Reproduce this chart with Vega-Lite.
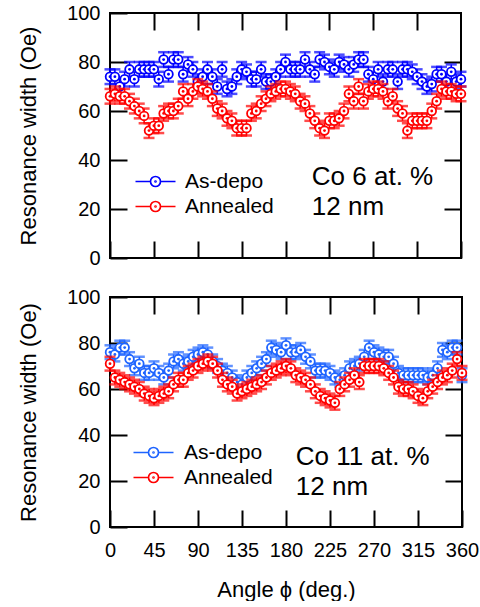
{
  "$schema": "https://vega.github.io/schema/vega-lite/v6.json",
  "background": "white",
  "padding": {"left": 16, "top": 2, "right": 5, "bottom": 0},
  "bounds": "flush",
  "spacing": 39,
  "resolve": {"scale": {"stroke": "independent"}, "legend": {"stroke": "independent"}},
  "datasets": {
    "top": [
      {"g":"As-depo","a":0,"v":74,"e":3},{"g":"As-depo","a":5,"v":74,"e":3},{"g":"As-depo","a":10,"v":70,"e":3},{"g":"As-depo","a":15,"v":73,"e":3},{"g":"As-depo","a":20,"v":77,"e":3},{"g":"As-depo","a":25,"v":73,"e":3},{"g":"As-depo","a":30,"v":77,"e":3},{"g":"As-depo","a":35,"v":77,"e":3},{"g":"As-depo","a":40,"v":77,"e":3},{"g":"As-depo","a":45,"v":77,"e":3},{"g":"As-depo","a":50,"v":73,"e":3},
      {"g":"As-depo","a":55,"v":81,"e":3},{"g":"As-depo","a":60,"v":75,"e":3},{"g":"As-depo","a":65,"v":81,"e":3},{"g":"As-depo","a":70,"v":81,"e":3},{"g":"As-depo","a":75,"v":75,"e":3},{"g":"As-depo","a":80,"v":79,"e":3},{"g":"As-depo","a":85,"v":77,"e":3},{"g":"As-depo","a":90,"v":72,"e":3},{"g":"As-depo","a":95,"v":74,"e":3},{"g":"As-depo","a":100,"v":77,"e":3},
      {"g":"As-depo","a":105,"v":74,"e":3},{"g":"As-depo","a":110,"v":70,"e":3},{"g":"As-depo","a":115,"v":77,"e":3},{"g":"As-depo","a":120,"v":69,"e":3},{"g":"As-depo","a":125,"v":70,"e":3},{"g":"As-depo","a":130,"v":74,"e":3},{"g":"As-depo","a":135,"v":77,"e":3},{"g":"As-depo","a":140,"v":76,"e":3},{"g":"As-depo","a":145,"v":73,"e":3},{"g":"As-depo","a":150,"v":73,"e":3},
      {"g":"As-depo","a":155,"v":77,"e":3},{"g":"As-depo","a":160,"v":72,"e":3},{"g":"As-depo","a":165,"v":72,"e":3},{"g":"As-depo","a":170,"v":74,"e":3},{"g":"As-depo","a":175,"v":77,"e":3},{"g":"As-depo","a":180,"v":80,"e":3},{"g":"As-depo","a":185,"v":77,"e":3},{"g":"As-depo","a":190,"v":77,"e":3},{"g":"As-depo","a":195,"v":77,"e":3},{"g":"As-depo","a":200,"v":81,"e":3},
      {"g":"As-depo","a":205,"v":77,"e":3},{"g":"As-depo","a":210,"v":75,"e":3},{"g":"As-depo","a":215,"v":81,"e":3},{"g":"As-depo","a":220,"v":80,"e":3},{"g":"As-depo","a":225,"v":78,"e":3},{"g":"As-depo","a":230,"v":77,"e":3},{"g":"As-depo","a":235,"v":80,"e":3},{"g":"As-depo","a":240,"v":79,"e":3},{"g":"As-depo","a":245,"v":77,"e":3},{"g":"As-depo","a":250,"v":79,"e":3},
      {"g":"As-depo","a":255,"v":81,"e":3},{"g":"As-depo","a":260,"v":81,"e":3},{"g":"As-depo","a":265,"v":75,"e":3},{"g":"As-depo","a":270,"v":73,"e":3},{"g":"As-depo","a":275,"v":77,"e":3},{"g":"As-depo","a":280,"v":72,"e":3},{"g":"As-depo","a":285,"v":77,"e":3},{"g":"As-depo","a":290,"v":77,"e":3},{"g":"As-depo","a":295,"v":72,"e":3},{"g":"As-depo","a":300,"v":77,"e":3},
      {"g":"As-depo","a":305,"v":77,"e":3},{"g":"As-depo","a":310,"v":76,"e":3},{"g":"As-depo","a":315,"v":74,"e":3},{"g":"As-depo","a":320,"v":72,"e":3},{"g":"As-depo","a":325,"v":70,"e":3},{"g":"As-depo","a":330,"v":71,"e":3},{"g":"As-depo","a":335,"v":75,"e":3},{"g":"As-depo","a":340,"v":75,"e":3},{"g":"As-depo","a":345,"v":72,"e":3},{"g":"As-depo","a":350,"v":76,"e":3},
      {"g":"As-depo","a":355,"v":72,"e":3},{"g":"As-depo","a":360,"v":73,"e":3},
      {"g":"Annealed","a":0,"v":66,"e":3},{"g":"Annealed","a":5,"v":67,"e":3},{"g":"Annealed","a":10,"v":66,"e":3},{"g":"Annealed","a":15,"v":66,"e":3},{"g":"Annealed","a":20,"v":64,"e":3},{"g":"Annealed","a":25,"v":62,"e":3},{"g":"Annealed","a":30,"v":60,"e":3},{"g":"Annealed","a":35,"v":58,"e":3},{"g":"Annealed","a":40,"v":52,"e":3},{"g":"Annealed","a":45,"v":54,"e":3},{"g":"Annealed","a":50,"v":54,"e":3},
      {"g":"Annealed","a":55,"v":59,"e":3},{"g":"Annealed","a":60,"v":60,"e":3},{"g":"Annealed","a":65,"v":60,"e":3},{"g":"Annealed","a":70,"v":62,"e":3},{"g":"Annealed","a":75,"v":68,"e":3},{"g":"Annealed","a":80,"v":65,"e":3},{"g":"Annealed","a":85,"v":68,"e":3},{"g":"Annealed","a":90,"v":70,"e":3},{"g":"Annealed","a":95,"v":69,"e":3},{"g":"Annealed","a":100,"v":68,"e":3},
      {"g":"Annealed","a":105,"v":65,"e":3},{"g":"Annealed","a":110,"v":61,"e":3},{"g":"Annealed","a":115,"v":60,"e":3},{"g":"Annealed","a":120,"v":57,"e":3},{"g":"Annealed","a":125,"v":56,"e":3},{"g":"Annealed","a":130,"v":53,"e":3},{"g":"Annealed","a":135,"v":53,"e":3},{"g":"Annealed","a":140,"v":53,"e":3},{"g":"Annealed","a":145,"v":59,"e":3},{"g":"Annealed","a":150,"v":60,"e":3},
      {"g":"Annealed","a":155,"v":63,"e":3},{"g":"Annealed","a":160,"v":65,"e":3},{"g":"Annealed","a":165,"v":67,"e":3},{"g":"Annealed","a":170,"v":68,"e":3},{"g":"Annealed","a":175,"v":69,"e":3},{"g":"Annealed","a":180,"v":69,"e":3},{"g":"Annealed","a":185,"v":68,"e":3},{"g":"Annealed","a":190,"v":67,"e":3},{"g":"Annealed","a":195,"v":64,"e":3},{"g":"Annealed","a":200,"v":63,"e":3},
      {"g":"Annealed","a":205,"v":59,"e":3},{"g":"Annealed","a":210,"v":56,"e":3},{"g":"Annealed","a":215,"v":53,"e":3},{"g":"Annealed","a":220,"v":52,"e":3},{"g":"Annealed","a":225,"v":56,"e":3},{"g":"Annealed","a":230,"v":56,"e":3},{"g":"Annealed","a":235,"v":57,"e":3},{"g":"Annealed","a":240,"v":60,"e":3},{"g":"Annealed","a":245,"v":67,"e":3},{"g":"Annealed","a":250,"v":64,"e":3},
      {"g":"Annealed","a":255,"v":70,"e":3},{"g":"Annealed","a":260,"v":64,"e":3},{"g":"Annealed","a":265,"v":68,"e":3},{"g":"Annealed","a":270,"v":69,"e":3},{"g":"Annealed","a":275,"v":69,"e":3},{"g":"Annealed","a":280,"v":68,"e":3},{"g":"Annealed","a":285,"v":64,"e":3},{"g":"Annealed","a":290,"v":66,"e":3},{"g":"Annealed","a":295,"v":61,"e":3},{"g":"Annealed","a":300,"v":59,"e":3},
      {"g":"Annealed","a":305,"v":52,"e":3},{"g":"Annealed","a":310,"v":56,"e":3},{"g":"Annealed","a":315,"v":56,"e":3},{"g":"Annealed","a":320,"v":56,"e":3},{"g":"Annealed","a":325,"v":56,"e":3},{"g":"Annealed","a":330,"v":60,"e":3},{"g":"Annealed","a":335,"v":64,"e":3},{"g":"Annealed","a":340,"v":69,"e":3},{"g":"Annealed","a":345,"v":68,"e":3},{"g":"Annealed","a":350,"v":68,"e":3},
      {"g":"Annealed","a":355,"v":67,"e":3},{"g":"Annealed","a":360,"v":67,"e":3}
    ],
    "bot": [
      {"g":"As-depo","a":0,"v":76,"e":3},{"g":"As-depo","a":5,"v":75,"e":3},{"g":"As-depo","a":10,"v":78,"e":3},{"g":"As-depo","a":15,"v":78,"e":3},{"g":"As-depo","a":20,"v":73,"e":3},{"g":"As-depo","a":25,"v":69,"e":3},{"g":"As-depo","a":30,"v":71,"e":3},{"g":"As-depo","a":35,"v":67,"e":3},{"g":"As-depo","a":40,"v":67,"e":3},{"g":"As-depo","a":45,"v":69,"e":3},{"g":"As-depo","a":50,"v":67,"e":3},
      {"g":"As-depo","a":55,"v":65,"e":3},{"g":"As-depo","a":60,"v":68,"e":3},{"g":"As-depo","a":65,"v":72,"e":3},{"g":"As-depo","a":70,"v":73,"e":3},{"g":"As-depo","a":75,"v":71,"e":3},{"g":"As-depo","a":80,"v":72,"e":3},{"g":"As-depo","a":85,"v":74,"e":3},{"g":"As-depo","a":90,"v":75,"e":3},{"g":"As-depo","a":95,"v":76,"e":3},{"g":"As-depo","a":100,"v":75,"e":3},
      {"g":"As-depo","a":105,"v":72,"e":3},{"g":"As-depo","a":110,"v":70,"e":3},{"g":"As-depo","a":115,"v":68,"e":3},{"g":"As-depo","a":120,"v":67,"e":3},{"g":"As-depo","a":125,"v":65,"e":3},{"g":"As-depo","a":130,"v":63,"e":3},{"g":"As-depo","a":135,"v":62,"e":3},{"g":"As-depo","a":140,"v":65,"e":3},{"g":"As-depo","a":145,"v":67,"e":3},{"g":"As-depo","a":150,"v":69,"e":3},
      {"g":"As-depo","a":155,"v":71,"e":3},{"g":"As-depo","a":160,"v":73,"e":3},{"g":"As-depo","a":165,"v":78,"e":3},{"g":"As-depo","a":170,"v":77,"e":3},{"g":"As-depo","a":175,"v":76,"e":3},{"g":"As-depo","a":180,"v":79,"e":3},{"g":"As-depo","a":185,"v":76,"e":3},{"g":"As-depo","a":190,"v":76,"e":3},{"g":"As-depo","a":195,"v":77,"e":3},{"g":"As-depo","a":200,"v":74,"e":3},
      {"g":"As-depo","a":205,"v":72,"e":3},{"g":"As-depo","a":210,"v":68,"e":3},{"g":"As-depo","a":215,"v":68,"e":3},{"g":"As-depo","a":220,"v":68,"e":3},{"g":"As-depo","a":225,"v":67,"e":3},{"g":"As-depo","a":230,"v":65,"e":3},{"g":"As-depo","a":235,"v":64,"e":3},{"g":"As-depo","a":240,"v":66,"e":3},{"g":"As-depo","a":245,"v":69,"e":3},{"g":"As-depo","a":250,"v":70,"e":3},
      {"g":"As-depo","a":255,"v":71,"e":3},{"g":"As-depo","a":260,"v":74,"e":3},{"g":"As-depo","a":265,"v":78,"e":3},{"g":"As-depo","a":270,"v":76,"e":3},{"g":"As-depo","a":275,"v":75,"e":3},{"g":"As-depo","a":280,"v":74,"e":3},{"g":"As-depo","a":285,"v":74,"e":3},{"g":"As-depo","a":290,"v":71,"e":3},{"g":"As-depo","a":295,"v":67,"e":3},{"g":"As-depo","a":300,"v":66,"e":3},
      {"g":"As-depo","a":305,"v":66,"e":3},{"g":"As-depo","a":310,"v":66,"e":3},{"g":"As-depo","a":315,"v":66,"e":3},{"g":"As-depo","a":320,"v":66,"e":3},{"g":"As-depo","a":325,"v":65,"e":3},{"g":"As-depo","a":330,"v":66,"e":3},{"g":"As-depo","a":335,"v":69,"e":3},{"g":"As-depo","a":340,"v":77,"e":3},{"g":"As-depo","a":345,"v":76,"e":3},{"g":"As-depo","a":350,"v":78,"e":3},
      {"g":"As-depo","a":355,"v":78,"e":3},{"g":"As-depo","a":360,"v":66,"e":3},
      {"g":"Annealed","a":0,"v":71,"e":3},{"g":"Annealed","a":5,"v":65,"e":3},{"g":"Annealed","a":10,"v":64,"e":3},{"g":"Annealed","a":15,"v":63,"e":3},{"g":"Annealed","a":20,"v":62,"e":3},{"g":"Annealed","a":25,"v":61,"e":3},{"g":"Annealed","a":30,"v":60,"e":3},{"g":"Annealed","a":35,"v":58,"e":3},{"g":"Annealed","a":40,"v":57,"e":3},{"g":"Annealed","a":45,"v":56,"e":3},{"g":"Annealed","a":50,"v":57,"e":3},
      {"g":"Annealed","a":55,"v":58,"e":3},{"g":"Annealed","a":60,"v":59,"e":3},{"g":"Annealed","a":65,"v":62,"e":3},{"g":"Annealed","a":70,"v":64,"e":3},{"g":"Annealed","a":75,"v":64,"e":3},{"g":"Annealed","a":80,"v":67,"e":3},{"g":"Annealed","a":85,"v":68,"e":3},{"g":"Annealed","a":90,"v":70,"e":3},{"g":"Annealed","a":95,"v":71,"e":3},{"g":"Annealed","a":100,"v":72,"e":3},
      {"g":"Annealed","a":105,"v":71,"e":3},{"g":"Annealed","a":110,"v":68,"e":3},{"g":"Annealed","a":115,"v":64,"e":3},{"g":"Annealed","a":120,"v":62,"e":3},{"g":"Annealed","a":125,"v":61,"e":3},{"g":"Annealed","a":130,"v":58,"e":3},{"g":"Annealed","a":135,"v":59,"e":3},{"g":"Annealed","a":140,"v":60,"e":3},{"g":"Annealed","a":145,"v":61,"e":3},{"g":"Annealed","a":150,"v":62,"e":3},
      {"g":"Annealed","a":155,"v":63,"e":3},{"g":"Annealed","a":160,"v":65,"e":3},{"g":"Annealed","a":165,"v":67,"e":3},{"g":"Annealed","a":170,"v":68,"e":3},{"g":"Annealed","a":175,"v":69,"e":3},{"g":"Annealed","a":180,"v":70,"e":3},{"g":"Annealed","a":185,"v":69,"e":3},{"g":"Annealed","a":190,"v":66,"e":3},{"g":"Annealed","a":195,"v":65,"e":3},{"g":"Annealed","a":200,"v":64,"e":3},
      {"g":"Annealed","a":205,"v":62,"e":3},{"g":"Annealed","a":210,"v":59,"e":3},{"g":"Annealed","a":215,"v":57,"e":3},{"g":"Annealed","a":220,"v":56,"e":3},{"g":"Annealed","a":225,"v":55,"e":3},{"g":"Annealed","a":230,"v":54,"e":3},{"g":"Annealed","a":235,"v":60,"e":3},{"g":"Annealed","a":240,"v":62,"e":3},{"g":"Annealed","a":245,"v":64,"e":3},{"g":"Annealed","a":250,"v":66,"e":3},
      {"g":"Annealed","a":255,"v":63,"e":3},{"g":"Annealed","a":260,"v":70,"e":3},{"g":"Annealed","a":265,"v":70,"e":3},{"g":"Annealed","a":270,"v":70,"e":3},{"g":"Annealed","a":275,"v":70,"e":3},{"g":"Annealed","a":280,"v":69,"e":3},{"g":"Annealed","a":285,"v":67,"e":3},{"g":"Annealed","a":290,"v":65,"e":3},{"g":"Annealed","a":295,"v":61,"e":3},{"g":"Annealed","a":300,"v":60,"e":3},
      {"g":"Annealed","a":305,"v":60,"e":3},{"g":"Annealed","a":310,"v":59,"e":3},{"g":"Annealed","a":315,"v":57,"e":3},{"g":"Annealed","a":320,"v":56,"e":3},{"g":"Annealed","a":325,"v":59,"e":3},{"g":"Annealed","a":330,"v":61,"e":3},{"g":"Annealed","a":335,"v":63,"e":3},{"g":"Annealed","a":340,"v":65,"e":3},{"g":"Annealed","a":345,"v":66,"e":3},{"g":"Annealed","a":350,"v":68,"e":3},
      {"g":"Annealed","a":355,"v":73,"e":3},{"g":"Annealed","a":360,"v":67,"e":3}
    ]
  },
  "config": {
    "view": {"stroke": "black", "strokeWidth": 2},
    "font": "Liberation Sans",
    "axis": {"grid": false, "domain": false, "labelOverlap": false, "labelFlush": false, "labelFont": "Liberation Sans", "labelFontSize": 20, "labelColor": "black", "titleFont": "Liberation Sans", "titleFontSize": 22, "titleColor": "black", "titleFontWeight": "normal"},
    "axisX": {"labelPadding": 13, "titlePadding": 19},
    "axisY": {"labelPadding": 10, "titlePadding": 26},
    "legend": {"title": null, "symbolType": "M-4,0L-1,0M1,0L4,0M1,0A1,1,0,1,1,-1,0A1,1,0,1,1,1,0M0.1,0A0.1,0.1,0,1,1,-0.1,0A0.1,0.1,0,1,1,0.1,0", "symbolSize": 100, "symbolStrokeWidth": 1.7, "symbolFillColor": "white", "labelFont": "Liberation Sans", "labelFontSize": 21, "labelColor": "black", "labelOffset": 19, "rowPadding": 3, "padding": 0}
  },
  "vconcat": [
    {
      "width": 351, "height": 245,
      "data": {"name": "top"},
      "resolve": {"axis": {"x": "independent", "y": "independent"}},
      "layer": [
        {"mark": {"type": "point", "opacity": 0, "size": 1},
         "encoding": {"x": {"field": "a", "type": "quantitative", "scale": {"domain": [0, 360], "nice": false}, "axis": {"orient": "bottom", "values": [0,45,90,135,180,225,270,315,360], "labels": false, "title": null, "ticks": true, "tickSize": 17, "offset": -17, "tickColor": "black", "tickWidth": 2}},
                      "y": {"field": "v", "type": "quantitative", "scale": {"domain": [0, 100], "nice": false}, "axis": {"orient": "left", "values": [0,20,40,60,80,100], "title": "Resonance width (Oe)", "ticks": true, "tickSize": 17, "offset": -17, "tickColor": "black", "tickWidth": 2}}}},
        {"mark": {"type": "point", "opacity": 0, "size": 1},
         "encoding": {"x": {"field": "a", "type": "quantitative", "scale": {"domain": [0, 360], "nice": false}, "axis": {"orient": "top", "values": [45,90,135,180,225,270,315], "labels": false, "title": null, "ticks": true, "tickSize": 17, "offset": -17, "tickColor": "black", "tickWidth": 2}},
                      "y": {"field": "v", "type": "quantitative", "scale": {"domain": [0, 100], "nice": false}, "axis": {"orient": "right", "values": [20,40,60,80], "labels": false, "title": null, "ticks": true, "tickSize": 17, "offset": -17, "tickColor": "black", "tickWidth": 2}}}},
        {"transform": [{"filter": "datum.g === 'As-depo'"}],
         "mark": {"type": "errorbar", "color": "#0000ff", "thickness": 1.5, "ticks": {"size": 11, "thickness": 2.5}},
         "encoding": {"x": {"field": "a", "type": "quantitative", "scale": {"domain": [0, 360], "nice": false}, "axis": null},
                      "y": {"field": "v", "type": "quantitative", "scale": {"domain": [0, 100], "nice": false}, "axis": null},
                      "yError": {"field": "e"}}},
        {"transform": [{"filter": "datum.g === 'As-depo'"}],
         "mark": {"type": "point", "shape": "circle", "filled": true, "fill": "white", "size": 75, "strokeWidth": 1.8, "opacity": 1},
         "encoding": {"x": {"field": "a", "type": "quantitative", "scale": {"domain": [0, 360], "nice": false}, "axis": null},
                      "y": {"field": "v", "type": "quantitative", "scale": {"domain": [0, 100], "nice": false}, "axis": null},
                      "stroke": {"field": "g", "type": "nominal", "scale": {"domain": ["As-depo", "Annealed"], "range": ["#0000ff", "#ff0000"]}, "legend": {"orient": "none", "legendX": 35, "legendY": 158}}}},
        {"transform": [{"filter": "datum.g === 'As-depo'"}],
         "mark": {"type": "point", "shape": "circle", "filled": true, "size": 8, "color": "#0000ff", "opacity": 1},
         "encoding": {"x": {"field": "a", "type": "quantitative", "scale": {"domain": [0, 360], "nice": false}, "axis": null}, "y": {"field": "v", "type": "quantitative", "scale": {"domain": [0, 100], "nice": false}, "axis": null}}},
        {"transform": [{"filter": "datum.g === 'Annealed'"}],
         "mark": {"type": "errorbar", "color": "#ff0000", "thickness": 1.5, "ticks": {"size": 11, "thickness": 2.5}},
         "encoding": {"x": {"field": "a", "type": "quantitative", "scale": {"domain": [0, 360], "nice": false}, "axis": null},
                      "y": {"field": "v", "type": "quantitative", "scale": {"domain": [0, 100], "nice": false}, "axis": null},
                      "yError": {"field": "e"}}},
        {"transform": [{"filter": "datum.g === 'Annealed'"}],
         "mark": {"type": "point", "shape": "circle", "filled": true, "fill": "white", "size": 75, "strokeWidth": 1.8, "opacity": 1},
         "encoding": {"x": {"field": "a", "type": "quantitative", "scale": {"domain": [0, 360], "nice": false}, "axis": null},
                      "y": {"field": "v", "type": "quantitative", "scale": {"domain": [0, 100], "nice": false}, "axis": null},
                      "stroke": {"field": "g", "type": "nominal", "scale": {"domain": ["As-depo", "Annealed"], "range": ["#0000ff", "#ff0000"]}, "legend": {"orient": "none", "legendX": 35, "legendY": 158}}}},
        {"transform": [{"filter": "datum.g === 'Annealed'"}],
         "mark": {"type": "point", "shape": "circle", "filled": true, "size": 8, "color": "#ff0000", "opacity": 1},
         "encoding": {"x": {"field": "a", "type": "quantitative", "scale": {"domain": [0, 360], "nice": false}, "axis": null}, "y": {"field": "v", "type": "quantitative", "scale": {"domain": [0, 100], "nice": false}, "axis": null}}},
        {"data": {"values": [{}]},
         "mark": {"type": "text", "align": "left", "baseline": "alphabetic", "fontSize": 26, "font": "Liberation Sans", "lineHeight": 30, "color": "black"},
         "encoding": {"x": {"datum": 207, "type": "quantitative", "scale": {"domain": [0, 360], "nice": false}, "axis": null}, "y": {"datum": 29.8, "type": "quantitative", "scale": {"domain": [0, 100], "nice": false}, "axis": null}, "text": {"value": ["Co 6 at. %", "12 nm"]}}}
      ]
    },
    {
      "width": 352, "height": 230,
      "data": {"name": "bot"},
      "resolve": {"axis": {"x": "independent", "y": "independent"}},
      "layer": [
        {"mark": {"type": "point", "opacity": 0, "size": 1},
         "encoding": {"x": {"field": "a", "type": "quantitative", "scale": {"domain": [0, 360], "nice": false}, "axis": {"orient": "bottom", "values": [0,45,90,135,180,225,270,315,360], "title": "Angle ϕ (deg.)", "ticks": true, "tickSize": 17, "offset": -17, "tickColor": "black", "tickWidth": 2}},
                      "y": {"field": "v", "type": "quantitative", "scale": {"domain": [0, 100], "nice": false}, "axis": {"orient": "left", "values": [0,20,40,60,80,100], "title": "Resonance width (Oe)", "ticks": true, "tickSize": 17, "offset": -17, "tickColor": "black", "tickWidth": 2}}}},
        {"mark": {"type": "point", "opacity": 0, "size": 1},
         "encoding": {"x": {"field": "a", "type": "quantitative", "scale": {"domain": [0, 360], "nice": false}, "axis": {"orient": "top", "values": [45,90,135,180,225,270,315], "labels": false, "title": null, "ticks": true, "tickSize": 17, "offset": -17, "tickColor": "black", "tickWidth": 2}},
                      "y": {"field": "v", "type": "quantitative", "scale": {"domain": [0, 100], "nice": false}, "axis": {"orient": "right", "values": [20,40,60,80], "labels": false, "title": null, "ticks": true, "tickSize": 17, "offset": -17, "tickColor": "black", "tickWidth": 2}}}},
        {"transform": [{"filter": "datum.g === 'As-depo'"}],
         "mark": {"type": "errorbar", "color": "#1e64ff", "thickness": 1.5, "ticks": {"size": 11, "thickness": 2.5}},
         "encoding": {"x": {"field": "a", "type": "quantitative", "scale": {"domain": [0, 360], "nice": false}, "axis": null},
                      "y": {"field": "v", "type": "quantitative", "scale": {"domain": [0, 100], "nice": false}, "axis": null},
                      "yError": {"field": "e"}}},
        {"transform": [{"filter": "datum.g === 'As-depo'"}],
         "mark": {"type": "point", "shape": "circle", "filled": true, "fill": "white", "size": 75, "strokeWidth": 1.8, "opacity": 1},
         "encoding": {"x": {"field": "a", "type": "quantitative", "scale": {"domain": [0, 360], "nice": false}, "axis": null},
                      "y": {"field": "v", "type": "quantitative", "scale": {"domain": [0, 100], "nice": false}, "axis": null},
                      "stroke": {"field": "g", "type": "nominal", "scale": {"domain": ["As-depo", "Annealed"], "range": ["#1e64ff", "#ff0000"]}, "legend": {"orient": "none", "legendX": 33, "legendY": 145, "labelOffset": 20}}}},
        {"transform": [{"filter": "datum.g === 'As-depo'"}],
         "mark": {"type": "point", "shape": "circle", "filled": true, "size": 8, "color": "#1e64ff", "opacity": 1},
         "encoding": {"x": {"field": "a", "type": "quantitative", "scale": {"domain": [0, 360], "nice": false}, "axis": null}, "y": {"field": "v", "type": "quantitative", "scale": {"domain": [0, 100], "nice": false}, "axis": null}}},
        {"transform": [{"filter": "datum.g === 'Annealed'"}],
         "mark": {"type": "errorbar", "color": "#ff0000", "thickness": 1.5, "ticks": {"size": 11, "thickness": 2.5}},
         "encoding": {"x": {"field": "a", "type": "quantitative", "scale": {"domain": [0, 360], "nice": false}, "axis": null},
                      "y": {"field": "v", "type": "quantitative", "scale": {"domain": [0, 100], "nice": false}, "axis": null},
                      "yError": {"field": "e"}}},
        {"transform": [{"filter": "datum.g === 'Annealed'"}],
         "mark": {"type": "point", "shape": "circle", "filled": true, "fill": "white", "size": 75, "strokeWidth": 1.8, "opacity": 1},
         "encoding": {"x": {"field": "a", "type": "quantitative", "scale": {"domain": [0, 360], "nice": false}, "axis": null},
                      "y": {"field": "v", "type": "quantitative", "scale": {"domain": [0, 100], "nice": false}, "axis": null},
                      "stroke": {"field": "g", "type": "nominal", "scale": {"domain": ["As-depo", "Annealed"], "range": ["#1e64ff", "#ff0000"]}, "legend": {"orient": "none", "legendX": 33, "legendY": 145, "labelOffset": 20}}}},
        {"transform": [{"filter": "datum.g === 'Annealed'"}],
         "mark": {"type": "point", "shape": "circle", "filled": true, "size": 8, "color": "#ff0000", "opacity": 1},
         "encoding": {"x": {"field": "a", "type": "quantitative", "scale": {"domain": [0, 360], "nice": false}, "axis": null}, "y": {"field": "v", "type": "quantitative", "scale": {"domain": [0, 100], "nice": false}, "axis": null}}},
        {"data": {"values": [{}]},
         "mark": {"type": "text", "align": "left", "baseline": "alphabetic", "fontSize": 26, "font": "Liberation Sans", "lineHeight": 30, "color": "black"},
         "encoding": {"x": {"datum": 190, "type": "quantitative", "scale": {"domain": [0, 360], "nice": false}, "axis": null}, "y": {"datum": 27, "type": "quantitative", "scale": {"domain": [0, 100], "nice": false}, "axis": null}, "text": {"value": ["Co 11 at. %", "12 nm"]}}}
      ]
    }
  ]
}
